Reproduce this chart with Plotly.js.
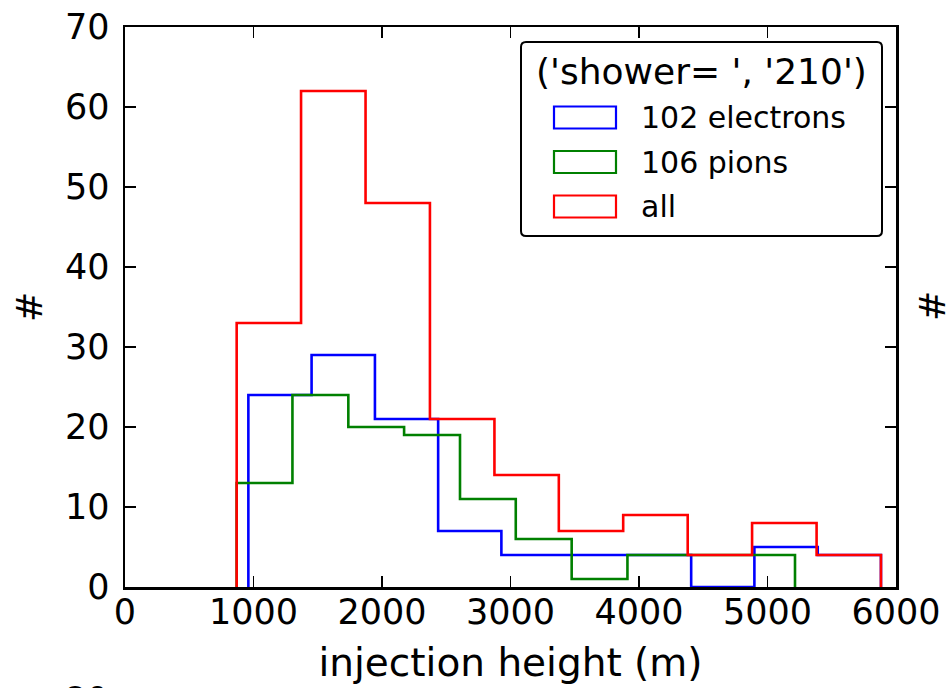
<!DOCTYPE html>
<html>
<head>
<meta charset="utf-8">
<script src="https://cdn.plot.ly/plotly-3.0.1.min.js"></script>
<style>
  html, body { margin: 0; padding: 0; background: #fff; }
  #chart { width: 946px; height: 688px; }
</style>
</head>
<body>
<div id="chart"></div>
<script>
// ---- data ----
const seriesNames = ["102 electrons", "106 pions", "all"];
const seriesColors = ["#0000ff", "#008000", "#ff0000"];

const electronEdges = [960, 1452, 1945, 2437, 2929, 3422, 3914, 4406, 4898, 5391, 5883];
const electronCounts = [24, 29, 21, 7, 4, 4, 4, 0, 5, 4];

const pionEdges = [869, 1303, 1738, 2172, 2607, 3041, 3476, 3910, 4345, 4779, 5214];
const pionCounts = [13, 24, 20, 19, 11, 6, 1, 4, 4, 4];

const allEdges = [869, 1370, 1872, 2373, 2875, 3376, 3877, 4379, 4880, 5382, 5883];
const allCounts = [33, 62, 48, 21, 14, 7, 9, 4, 8, 4];

const xTickVals = [0, 1000, 2000, 3000, 4000, 5000, 6000];
const yTickVals = [0, 10, 20, 30, 40, 50, 60, 70];

const legendTitle = "('shower= ', '210')";
const xTitle = "injection height (m)";
const yTitle = "#";

// ---- build step outlines ----
function stepTrace(edges, counts, name, color) {
  const x = [edges[0]].concat(edges);
  const y = [0].concat(counts, [0]);
  return {
    type: "scatter", mode: "lines", name: name,
    x: x, y: y,
    line: { shape: "hv", color: color, width: 2.6 },
    showlegend: false, hoverinfo: "skip"
  };
}

const traces = [
  stepTrace(electronEdges, electronCounts, seriesNames[0], seriesColors[0]),
  stepTrace(pionEdges, pionCounts, seriesNames[1], seriesColors[1]),
  stepTrace(allEdges, allCounts, seriesNames[2], seriesColors[2])
];

// ---- layout geometry ----
const W = 946, H = 688;
const M = { l: 125, r: 50, t: 27, b: 101 };
const PW = W - M.l - M.r, PH = H - M.t - M.b;
const px = v => (v - M.l) / PW;          // pixel x -> paper
const py = v => (H - M.b - v) / PH;      // pixel y -> paper

const FONT = "DejaVu Sans, Liberation Sans, sans-serif";

// hand-drawn matplotlib-style legend
const shapes = [];
const annotations = [];
const lx0 = 521, lx1 = 882, ly0 = 42, ly1 = 236, rad = 5;
shapes.push({
  type: "path", xref: "paper", yref: "paper",
  path: `M ${px(lx0 + rad)} ${py(ly0)} L ${px(lx1 - rad)} ${py(ly0)} Q ${px(lx1)} ${py(ly0)} ${px(lx1)} ${py(ly0 + rad)} ` +
        `L ${px(lx1)} ${py(ly1 - rad)} Q ${px(lx1)} ${py(ly1)} ${px(lx1 - rad)} ${py(ly1)} ` +
        `L ${px(lx0 + rad)} ${py(ly1)} Q ${px(lx0)} ${py(ly1)} ${px(lx0)} ${py(ly1 - rad)} ` +
        `L ${px(lx0)} ${py(ly0 + rad)} Q ${px(lx0)} ${py(ly0)} ${px(lx0 + rad)} ${py(ly0)} Z`,
  line: { color: "#000", width: 2 }, fillcolor: "#fff", layer: "above"
});
annotations.push({
  xref: "paper", yref: "paper", x: px((lx0 + lx1) / 2), y: py(71),
  xanchor: "center", yanchor: "middle", showarrow: false,
  text: legendTitle, font: { family: FONT, size: 36, color: "#000" }
});
const rowY = [117.5, 162, 206.5];
seriesNames.forEach((n, i) => {
  shapes.push({
    type: "rect", xref: "paper", yref: "paper",
    x0: px(554), x1: px(616), y0: py(rowY[i] - 11), y1: py(rowY[i] + 11),
    line: { color: seriesColors[i], width: 2.2 }, fillcolor: "rgba(0,0,0,0)", layer: "above"
  });
  annotations.push({
    xref: "paper", yref: "paper", x: px(639), y: py(rowY[i]),
    xanchor: "left", yanchor: "middle", showarrow: false,
    text: n, font: { family: FONT, size: 30, color: "#000" }
  });
});

// fragments of neighbouring panels visible at the edges (cut off in the reference too)
annotations.push({
  xref: "paper", yref: "paper", x: px(932), y: py(306),
  xanchor: "center", yanchor: "middle", showarrow: false, textangle: -90,
  text: yTitle, font: { family: FONT, size: 36, color: "#000" }
});
annotations.push({
  xref: "paper", yref: "paper", x: px(86), y: py(700),
  xanchor: "center", yanchor: "middle", showarrow: false,
  text: "80", font: { family: FONT, size: 35, color: "#000" }
});

const axisCommon = {
  showgrid: false, zeroline: false,
  showline: true, linecolor: "#000", linewidth: 2.5, mirror: "ticks",
  ticks: "inside", ticklen: 11, tickwidth: 1.6, tickcolor: "#000",
  tickfont: { family: FONT, size: 35, color: "#000" },
  fixedrange: true
};

const layout = {
  width: W, height: H,
  margin: M,
  paper_bgcolor: "#fff", plot_bgcolor: "#fff",
  showlegend: false,
  xaxis: Object.assign({}, axisCommon, {
    range: [0, 6000], tickvals: xTickVals, ticktext: xTickVals.map(String),
    ticklabelstandoff: -8,
    title: { text: xTitle, font: { family: FONT, size: 39, color: "#000" }, standoff: 18 }
  }),
  yaxis: Object.assign({}, axisCommon, {
    range: [0, 70], tickvals: yTickVals, ticktext: yTickVals.map(String),
    ticklabelstandoff: 6,
    title: { text: yTitle, font: { family: FONT, size: 36, color: "#000" }, standoff: 12 }
  }),
  shapes: shapes,
  annotations: annotations
};

Plotly.newPlot("chart", traces, layout, { displayModeBar: false, staticPlot: true });
</script>
</body>
</html>
